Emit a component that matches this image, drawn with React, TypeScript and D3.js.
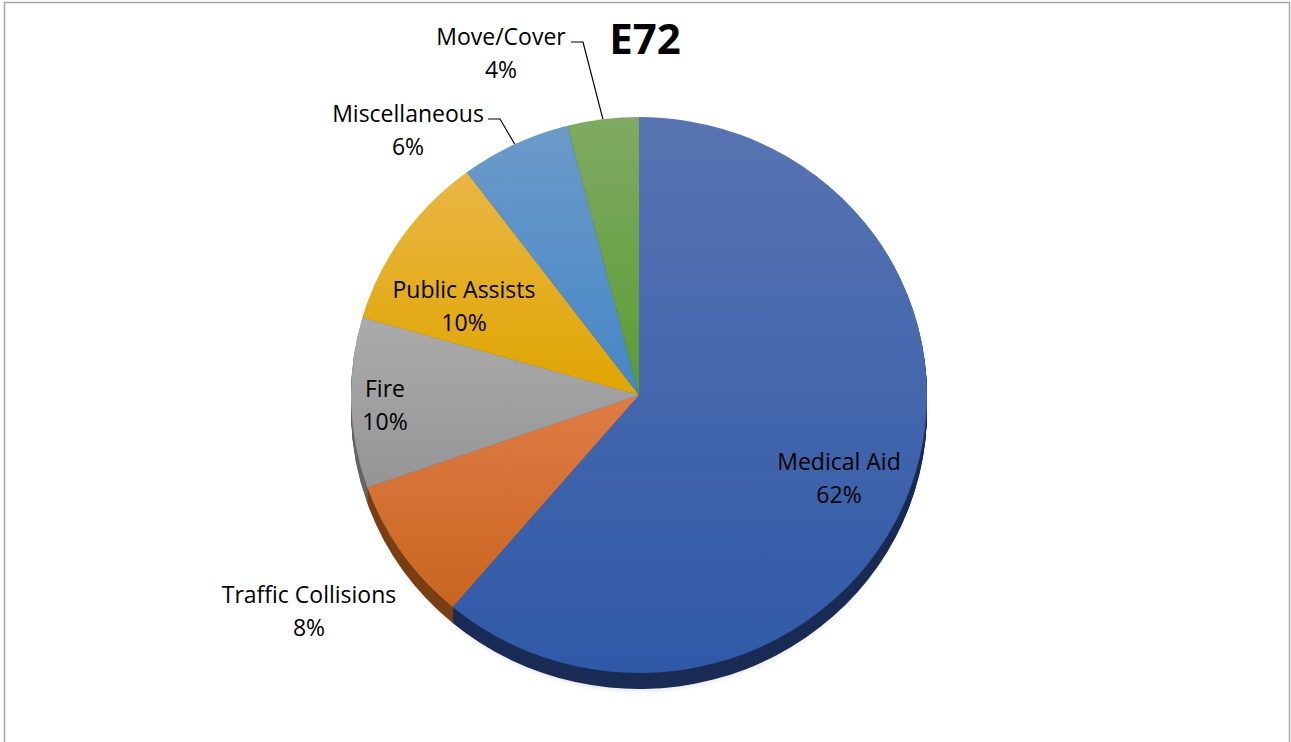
import * as React from 'react';
import * as d3 from 'd3';

const categories = ['Medical Aid', 'Traffic Collisions', 'Fire', 'Public Assists', 'Miscellaneous', 'Move/Cover'];
const shares = [61.2, 8.4, 9.9, 10.3, 6.2, 4.0];
const percentLabels = ['62%', '8%', '10%', '10%', '6%', '4%'];
const chartTitle = 'E72';

// gradient (top, bottom) for each slice face, and the darker side wall
const faceColors = [
	['#5874b2', '#2f59a7'],
	['#de7c46', '#c9651f'],
	['#ababab', '#959595'],
	['#e9b645', '#e0a500'],
	['#6c9aca', '#4587c6'],
	['#80aa63', '#5a9c34']
];
const sideColors = ['#1a2c55', '#7b3f14', '#666666', '#8a6a10', '#2c5580', '#3a6322'];

// label anchor (center x, first baseline) and leader flag
const labelLayout: any = {
	'Medical Aid': { x: 839, y: 470, leader: false },
	'Traffic Collisions': { x: 309, y: 603, leader: false },
	Fire: { x: 385, y: 397, leader: false },
	'Public Assists': { x: 464, y: 298, leader: false },
	Miscellaneous: { x: 408, y: 122, leader: true },
	'Move/Cover': { x: 501, y: 45, leader: true }
};

const W = 1291;
const H = 742;
const cx = 639;
const cy = 395;
const rx = 288;
const ry = 278;
const depth = 16;

export default function App() {
	const pie = d3
		.pie<number>()
		.sort(null)
		.value((d) => d);
	const arcs = pie(shares);
	const arc = d3.arc<any>().innerRadius(0).outerRadius(rx);
	const sy = ry / rx;
	const font = "'Open Sans', sans-serif";

	const sideLayers = d3.range(depth, 0, -1);

	return (
		<svg width={W} height={H} style={{ position: 'absolute', left: 0, top: 0 }} xmlns="http://www.w3.org/2000/svg">
			<defs>
				{faceColors.map((c, i) => (
					<linearGradient key={i} id={'face' + i} x1="0" y1="0" x2="0" y2="1">
						<stop offset="0%" stopColor={c[0]} />
						<stop offset="100%" stopColor={c[1]} />
					</linearGradient>
				))}
				<filter id="soft" x="-20%" y="-20%" width="140%" height="140%">
					<feGaussianBlur stdDeviation="3" />
				</filter>
			</defs>
			<rect x={4.5} y={2.5} width={W - 6} height={H + 10} fill="#fff" stroke="#a6a6a6" strokeWidth={1.5} />

			{/* soft shadow below the pie */}
			<ellipse cx={cx} cy={cy + depth + 2} rx={rx - 4} ry={ry - 2} fill="#000" opacity={0.18} filter="url(#soft)" />

			{/* side walls */}
			{sideLayers.map((k) => (
				<g key={k} transform={`translate(${cx},${cy + k}) scale(1,${sy})`}>
					{arcs.map((a, i) => (
						<path key={i} d={arc(a) as string} fill={sideColors[i]} />
					))}
				</g>
			))}

			{/* top faces */}
			<g transform={`translate(${cx},${cy}) scale(1,${sy})`}>
				{arcs.map((a, i) => (
					<path key={i} d={arc(a) as string} fill={`url(#face${i})`} />
				))}
			</g>

			{/* leader lines */}
			{arcs.map((a, i) => {
				const lay = labelLayout[categories[i]];
				if (!lay.leader) return null;
				const mid = (a.startAngle + a.endAngle) / 2;
				const px = cx + rx * Math.sin(mid);
				const py = cy - ry * Math.cos(mid);
				const w = categories[i] === 'Move/Cover' ? 66 : 76;
				const sx = lay.x + w + 4;
				const ly = lay.y - 3;
				return (
					<polyline
						key={i}
						points={`${sx},${ly} ${sx + 12},${ly} ${px},${py}`}
						fill="none"
						stroke="#000"
						strokeWidth={1.2}
					/>
				);
			})}

			{/* labels */}
			{categories.map((c, i) => {
				const lay = labelLayout[c];
				return (
					<text key={c} x={lay.x} y={lay.y} textAnchor="middle" fontFamily={font} fontSize={23} fill="#000">
						<tspan x={lay.x}>{c}</tspan>
						<tspan x={lay.x} dy={33}>
							{percentLabels[i]}
						</tspan>
					</text>
				);
			})}

			<text x={645} y={54} textAnchor="middle" fontFamily={font} fontWeight="bold" fontSize={42} fill="#000">
				{chartTitle}
			</text>
		</svg>
	);
}
